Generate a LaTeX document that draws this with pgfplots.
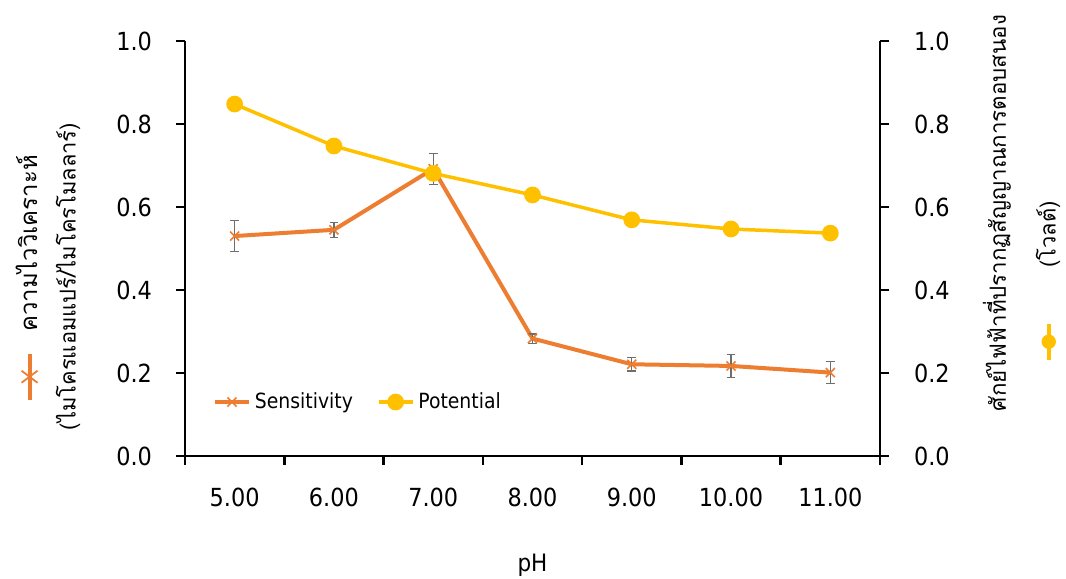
\documentclass[border=0pt]{standalone}
\usepackage{fontspec}
\setmainfont{DejaVu Sans Condensed}
\newfontfamily\thaifont[Script=Thai]{Loma}
\usepackage{pgfplots}
\usepackage{pgfplotstable}
\pgfplotsset{compat=1.18}
\definecolor{sorange}{HTML}{ED7D31}
\definecolor{syellow}{HTML}{FFC000}
\definecolor{ebgray}{HTML}{6E6E6E}

\pgfplotstableread{
x y err
0 0.530 0.038
1 0.545 0.018
2 0.692 0.037
3 0.283 0.011
4 0.221 0.016
5 0.217 0.028
6 0.201 0.026
}\sens

\pgfplotstableread{
x y
0 0.848
1 0.747
2 0.681
3 0.629
4 0.569
5 0.547
6 0.537
}\pot

\newcommand{\orkey}{\tikz[baseline=-0.6ex]{\draw[sorange,line width=2bp] (0,0)--(23bp,0); \draw[sorange,line width=0.9bp] (8.5bp,-4bp)--(14.5bp,4bp) (8.5bp,4bp)--(14.5bp,-4bp);}}
\newcommand{\yekey}{\tikz[baseline=-0.6ex]{\draw[syellow,line width=2bp] (0,0)--(18bp,0); \fill[syellow] (9bp,0) circle (3.6bp);}}

\pgfplotsset{
  common/.style={
    scale only axis, width=347.5bp, height=207.5bp,
    xmin=-0.5, xmax=6.5, ymin=0, ymax=1,
    ytick={0,0.2,0.4,0.6,0.8,1.0},
    tick align=outside,
    major tick length=4.5bp,
    axis line style={line width=1.25bp, black},
    every tick/.style={line width=1.25bp, black},
    ticklabel style={font=\fontsize{12.5}{14}\selectfont},
    /pgf/number format/assume math mode=true,
    yticklabel style={/pgf/number format/fixed, /pgf/number format/fixed zerofill, /pgf/number format/precision=1},
  },
}

\begin{document}
\begin{tikzpicture}
\useasboundingbox (-92.5bp,-61.5bp) rectangle (440.5bp,228bp);
\begin{axis}[common,
  axis x line*=bottom, axis y line*=left,
  xtick={-0.5,0.5,...,6.5}, xticklabels={},
  extra x ticks={0,1,2,3,4,5,6},
  extra x tick labels={5.00,6.00,7.00,8.00,9.00,10.00,11.00},
  extra x tick style={major tick length=0pt, xticklabel style={yshift=-12.5bp}},
  yticklabel style={xshift=-8.5bp},
]
\addplot[sorange, line width=2bp, mark=x, mark size=3.2bp, mark options={line width=0.8bp},
  error bars/.cd, y dir=both, y explicit,
  error bar style={ebgray, line width=0.6bp},
  error mark options={ebgray, rotate=90, mark size=2.2bp, line width=0.6bp}]
  table[x=x, y=y, y error=err]{\sens};
\end{axis}
\begin{axis}[common,
  axis y line*=right, axis x line=none,
  yticklabel style={xshift=9bp},
  legend columns=2,
  legend style={draw=none, fill=none, at={(0.031,0.13)}, anchor=west,
    font=\fontsize{10.5}{12}\selectfont,
    /tikz/every even column/.append style={column sep=10bp}},
]
\addlegendimage{sorange, line width=2bp, mark=x, mark size=3.2bp, mark options={line width=0.8bp}}
\addlegendentry{Sensitivity}
\addplot[syellow, line width=1.75bp, mark=*, mark size=3.3bp] table[x=x, y=y]{\pot};
\addlegendentry{Potential}
\end{axis}
\node[font=\fontsize{12}{14}\selectfont] at (173.75bp,-54.5bp) {pH};
\node[rotate=90, font=\thaifont\fontsize{12}{14}\selectfont] at (-79bp,88.75bp) {\orkey\hspace{10bp}ความไววิเคราะห์};
\node[rotate=90, font=\thaifont\fontsize{11}{13}\selectfont] at (-58.5bp,89.75bp) {(ไมโครแอมแปร์/ไมโครโมลลาร์)};
\node[rotate=90, font=\thaifont\fontsize{11.2}{13}\selectfont] at (406bp,121.5bp) {ศักย์ไฟฟ้าที่ปรากฏสัญญาณการตอบสนอง};
\node[rotate=90, font=\thaifont\fontsize{11}{13}\selectfont] at (431.5bp,87.25bp) {\yekey\hspace{27bp}(โวลต์)};
\end{tikzpicture}
\end{document}
